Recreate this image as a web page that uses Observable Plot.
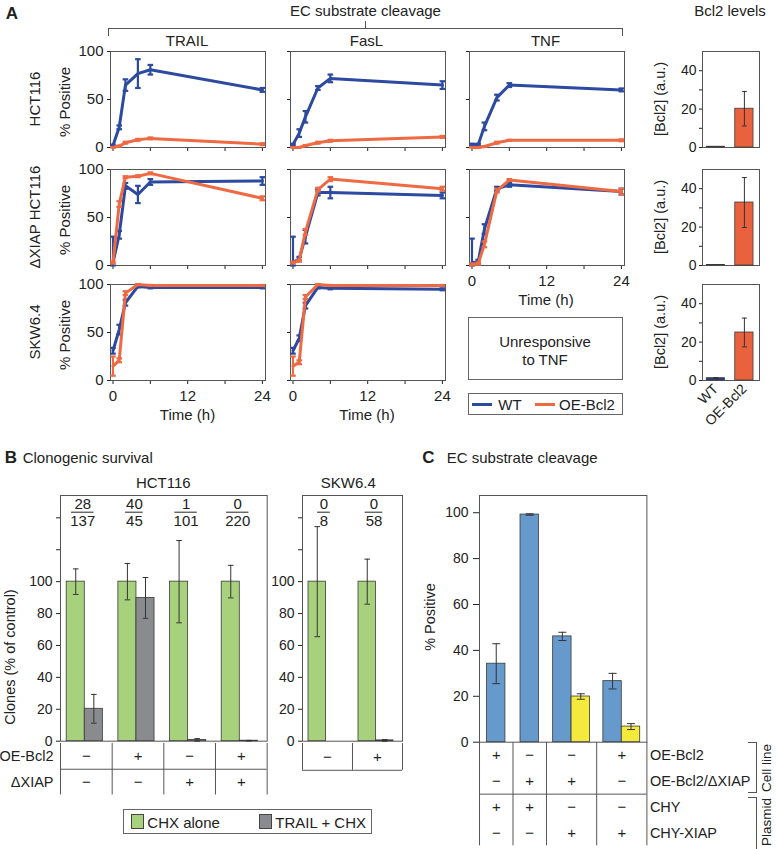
<!DOCTYPE html>
<html><head><meta charset="utf-8">
<script src="https://cdn.jsdelivr.net/npm/d3@7"></script>
<script src="https://cdn.jsdelivr.net/npm/@observablehq/plot@0.6"></script>
<style>
body{margin:0;background:#fff;}
#root{position:relative;width:776px;height:849px;overflow:hidden;font-family:"Liberation Sans",Arial,Helvetica,sans-serif;color:#222;background:#fff;}
</style></head><body><div id="root"></div>
<script>
// ================= DATA =================
// Panel A: EC substrate cleavage (% positive) over time
const timesH = [0, 1, 2, 4, 6, 24];
const cellLinesA = ["HCT116", "ΔXIAP HCT116", "SKW6.4"];
const ligandsA = ["TRAIL", "FasL", "TNF"];
const seriesNames = ["WT", "OE-Bcl2"];

const hct_TRAIL_WT = [2, 21, 65, 77, 81, 60];
const hct_TRAIL_WT_err = [1, 2, 6, 15, 5, 2];
const hct_TRAIL_OE = [0, 1.5, 5, 8, 9.5, 3.5];
const hct_TRAIL_OE_err = [0.5, 0.5, 1, 1, 1, 1];
const hct_FasL_WT = [3, 15, 32, 62, 72, 65];
const hct_FasL_WT_err = [1, 4, 6, 2, 4, 4];
const hct_FasL_OE = [0, 0, 2, 5, 7, 11];
const hct_FasL_OE_err = [0.5, 0.5, 0.5, 1, 1, 1];
const hct_TNF_WT = [3, 3, 22, 52, 65, 60];
const hct_TNF_WT_err = [1, 1, 4, 3, 2, 1.5];
const hct_TNF_OE = [0, 0, 1, 5, 7.5, 7.5];
const hct_TNF_OE_err = [0.5, 0.5, 0.5, 1, 0.5, 1];

const dx_TRAIL_WT = [3, 32, 83, 74, 87, 88];
const dx_TRAIL_WT_err = [27, 4, 3, 9, 3, 4];
const dx_TRAIL_OE = [3, 64, 92, 93, 96, 70];
const dx_TRAIL_OE_err = [1, 3, 1, 1, 1, 2];
const dx_FasL_WT = [3, 7, 30, 76, 76, 73];
const dx_FasL_WT_err = [27, 2, 7, 3, 6, 3];
const dx_FasL_OE = [3, 5, 35, 79, 90, 80];
const dx_FasL_OE_err = [1, 1, 3, 2, 2, 2];
const dx_TNF_WT = [3, 4, 38, 80, 84, 77];
const dx_TNF_WT_err = [25, 2, 5, 2, 2, 3];
const dx_TNF_OE = [1, 2, 22, 78, 89, 77];
const dx_TNF_OE_err = [1, 1, 3, 2, 1, 3];

const skw_TRAIL_WT = [31, 53, 81, 98, 97, 97];
const skw_TRAIL_WT_err = [3, 5, 3, 1, 1, 1];
const skw_TRAIL_OE = [15, 21, 91, 100, 99, 99];
const skw_TRAIL_OE_err = [10, 2, 2, 0.5, 0.5, 0.5];
const skw_FasL_WT = [31, 44, 78, 97, 96, 95];
const skw_FasL_WT_err = [3, 3, 3, 1, 1, 1];
const skw_FasL_OE = [15, 19, 87, 100, 99, 99];
const skw_FasL_OE_err = [10, 2, 2, 0.5, 0.5, 0.5];

// Panel A right: Bcl2 levels (a.u.)
const bcl2Groups = ["WT", "OE-Bcl2"];
const bcl2_HCT116 = [0.4, 20.2];
const bcl2_HCT116_err = [0, 9];
const bcl2_dXIAP = [0.3, 32.8];
const bcl2_dXIAP_err = [0, 13];
const bcl2_SKW = [1.2, 25];
const bcl2_SKW_err = [0.3, 7.5];

// Panel B: clonogenic survival (% of control)
const bRowLabels = ["OE-Bcl2", "ΔXIAP"];
const hctOEBcl2 = ["−", "+", "−", "+"];
const hctDeltaXIAP = ["−", "−", "+", "+"];
const hctSurvivors = [28, 40, 1, 0];
const hctTotal = [137, 45, 101, 220];
const hctCHX = [100, 100, 100, 100];
const hctCHX_err = [8, 11.4, 25.8, 10.2];
const hctTRAIL = [20.3, 89.8, 0.8, 0.3];
const hctTRAIL_err = [9, 12.8, 0.8, 0.2];
const skwOEBcl2 = ["−", "+"];
const skwSurvivors = [0, 0];
const skwTotal = [8, 58];
const skwCHX = [100, 100];
const skwCHX_err = [34.5, 14.1];
const skwTRAIL = [0, 0.5];
const skwTRAIL_err = [0, 0.5];
const bLegend = ["CHX alone", "TRAIL + CHX"];

// Panel C: EC substrate cleavage (% positive)
const cRowLabels = ["OE-Bcl2", "OE-Bcl2/ΔXIAP", "CHY", "CHY-XIAP"];
const cOEBcl2 = ["+", "−", "−", "+"];
const cOEBcl2dXIAP = ["−", "+", "+", "−"];
const cCHY = ["+", "+", "−", "−"];
const cCHYXIAP = ["−", "−", "+", "+"];
const cBlue = [34.2, 99.2, 46.1, 26.6];
const cBlue_err = [8.7, 0.3, 1.8, 3.4];
const cYellow = [null, null, 19.9, 6.8];
const cYellow_err = [null, null, 1.2, 1.3];

// ================= STYLE =================
const FONT = '"Liberation Sans", Arial, Helvetica, sans-serif';
const INK = "#222", FRAME = "#555", EDGE = "#3a3a3a";
const BLUE = "#2c4a9f", ORANGE = "#ee6a43";
const BCL2_WT = "#2b3c8c", BCL2_OE = "#e9623d";
const GREEN = "#a8d17d", GRAY = "#8a8b8e";
const CBLUE = "#6699cc", CYELLOW = "#f5ea3c";

const root = document.getElementById("root");
const CAP = {draw(ctx, size) { const r = Math.sqrt(size / Math.PI); ctx.moveTo(-r, 0); ctx.lineTo(r, 0); }};

function chart(frame, m, opts, fontSize = 15) {
  const [x0, y0, x1, y1] = frame;
  const [mt, mr, mb, ml] = m;
  const w = x1 - x0 + ml + mr, h = y1 - y0 + mt + mb;
  const svg = Plot.plot({
    width: w, height: h, marginTop: mt, marginRight: mr, marginBottom: mb, marginLeft: ml,
    style: {fontFamily: FONT, fontSize: fontSize + "px", background: "transparent", overflow: "visible", color: INK, maxWidth: "none"},
    ...opts
  });
  const d = document.createElement("div");
  Object.assign(d.style, {position: "absolute", left: (x0 - ml) + "px", top: (y0 - mt) + "px", width: w + "px", height: h + "px"});
  d.appendChild(svg);
  root.appendChild(d);
}
function label(str, x, y, o = {}) {
  const d = document.createElement("div");
  d.textContent = str;
  const tx = o.anchor === "start" ? "0" : "-50%";
  Object.assign(d.style, {position: "absolute", left: x + "px", top: y + "px", whiteSpace: "nowrap",
    fontSize: (o.size || 15) + "px", fontWeight: o.bold ? "bold" : "normal", lineHeight: "1", color: INK,
    transform: `translate(${tx},-50%)` + (o.rotate ? ` rotate(${o.rotate}deg)` : "")});
  root.appendChild(d);
}
function box(x, y, w, h, css = {}) {
  const d = document.createElement("div");
  Object.assign(d.style, {position: "absolute", left: x + "px", top: y + "px", width: w + "px", height: h + "px", boxSizing: "border-box"}, css);
  root.appendChild(d);
  return d;
}
function errMarks(data, x, lo, hi, stroke, sw, r) {
  return [
    Plot.ruleX(data, {x, y1: lo, y2: hi, stroke, strokeWidth: sw}),
    Plot.dot(data, {x, y: hi, symbol: CAP, r, stroke, strokeWidth: sw, fill: "none"}),
    Plot.dot(data, {x, y: lo, symbol: CAP, r, stroke, strokeWidth: sw, fill: "none"})
  ];
}

// ================= PANEL A =================
const colX = [110, 289.5, 468.5];
const rowY = [50.7, 168.5, 283.5];
const PW = 155, PH = 96;

const panelsA = [
  {r: 0, c: 0, wt: hct_TRAIL_WT, wtE: hct_TRAIL_WT_err, oe: hct_TRAIL_OE, oeE: hct_TRAIL_OE_err},
  {r: 0, c: 1, wt: hct_FasL_WT, wtE: hct_FasL_WT_err, oe: hct_FasL_OE, oeE: hct_FasL_OE_err},
  {r: 0, c: 2, wt: hct_TNF_WT, wtE: hct_TNF_WT_err, oe: hct_TNF_OE, oeE: hct_TNF_OE_err},
  {r: 1, c: 0, wt: dx_TRAIL_WT, wtE: dx_TRAIL_WT_err, oe: dx_TRAIL_OE, oeE: dx_TRAIL_OE_err},
  {r: 1, c: 1, wt: dx_FasL_WT, wtE: dx_FasL_WT_err, oe: dx_FasL_OE, oeE: dx_FasL_OE_err},
  {r: 1, c: 2, wt: dx_TNF_WT, wtE: dx_TNF_WT_err, oe: dx_TNF_OE, oeE: dx_TNF_OE_err, xlab: true},
  {r: 2, c: 0, wt: skw_TRAIL_WT, wtE: skw_TRAIL_WT_err, oe: skw_TRAIL_OE, oeE: skw_TRAIL_OE_err, xlab: true},
  {r: 2, c: 1, wt: skw_FasL_WT, wtE: skw_FasL_WT_err, oe: skw_FasL_OE, oeE: skw_FasL_OE_err, xlab: true}
];
function seriesMarks(data, color) {
  return [
    ...errMarks(data, "t", d => Math.max(0, d.v - d.e), d => d.v + d.e, color, 2.2, 2.8),
    Plot.line(data, {x: "t", y: "v", stroke: color, strokeWidth: 3, strokeLinejoin: "round"})
  ];
}
for (const p of panelsA) {
  const rows = (v, e) => timesH.map((t, i) => ({t, v: v[i], e: e[i]}));
  chart([colX[p.c], rowY[p.r], colX[p.c] + PW, rowY[p.r] + PH], [4, 4, 40, 40], {
    x: {domain: [-0.4, 24.5], ticks: [0, 6, 12, 18, 24], tickSize: 4, tickPadding: 6,
        tickFormat: d => (p.xlab && d % 12 === 0) ? String(d) : "", label: null},
    y: {domain: [0, 100], ticks: [0, 50, 100], tickSize: 3, tickPadding: 4,
        tickFormat: d => p.c === 0 ? String(d) : "", label: null},
    marks: [
      Plot.frame({stroke: FRAME}),
      ...seriesMarks(rows(p.wt, p.wtE), BLUE),
      ...seriesMarks(rows(p.oe, p.oeE), ORANGE)
    ]
  });
  if (p.xlab) label("Time (h)", colX[p.c] + PW / 2, rowY[p.r] + PH + 34);
}
// headers
label("A", 12, 12.5, {bold: true, size: 17});
label("EC substrate cleavage", 365.5, 10);
label("Bcl2 levels", 730, 10);
box(108, 27.7, 515.3, 8.5, {borderTop: "1px solid #555", borderLeft: "1px solid #555", borderRight: "1px solid #555"});
box(365, 20.5, 1, 7.5, {background: "#555"});
ligandsA.forEach((g, c) => label(g, colX[c] + PW / 2 - 0.5, 40));
cellLinesA.forEach((n, r) => {
  label(n, 34, rowY[r] + PH / 2, {rotate: -90});
  label("% Positive", 64, rowY[r] + PH / 2 + 3, {rotate: -90});
  label("[Bcl2] (a.u.)", 660, rowY[r] + PH / 2, {rotate: -90, size: 14.5});
});
// unresponsive box
box(467.5, 317.3, 155.5, 63, {border: "1px solid #666"});
label("Unresponsive", 545, 340.7);
label("to TNF", 545, 358.5);
// legend A
box(467.5, 392.7, 155.5, 22.5, {border: "1px solid #666"});
box(471.7, 403, 20, 3, {background: BLUE});
label(seriesNames[0], 498.3, 404.3, {anchor: "start"});
box(535, 403, 20, 3, {background: ORANGE});
label(seriesNames[1], 559, 404.3, {anchor: "start"});

// Bcl2 bar charts
const bcl2Sets = [[bcl2_HCT116, bcl2_HCT116_err], [bcl2_dXIAP, bcl2_dXIAP_err], [bcl2_SKW, bcl2_SKW_err]];
bcl2Sets.forEach(([v, e], r) => {
  const data = bcl2Groups.map((g, i) => ({g, x: i + 0.47, v: v[i], e: e[i]}));
  const last = r === 2;
  chart([702, rowY[r], 759, rowY[r] + PH], [4, 4, 40, 40], {
    x: {domain: [0, 2], ticks: data.map(d => d.x), tickFormat: x => bcl2Groups[Math.round(x - 0.47)],
        tickSize: 0, tickPadding: 6, tickRotate: -45, label: null, axis: last ? "bottom" : null},
    y: {domain: [0, 50], ticks: [0, 10, 20, 30, 40], tickSize: 3, tickPadding: 3,
        tickFormat: d => d % 20 === 0 ? String(d) : "", label: null},
    marks: [
      Plot.frame({stroke: FRAME}),
      Plot.rect(data.filter(d => d.g === "WT"), {x1: d => d.x - 0.32, x2: d => d.x + 0.32, y1: () => 0, y2: "v", fill: BCL2_WT, stroke: EDGE, strokeWidth: 0.8}),
      Plot.rect(data.filter(d => d.g !== "WT"), {x1: d => d.x - 0.32, x2: d => d.x + 0.32, y1: () => 0, y2: "v", fill: BCL2_OE, stroke: EDGE, strokeWidth: 0.8}),
      ...errMarks(data.filter(d => d.e > 0), "x", d => d.v - d.e, d => d.v + d.e, "#333", 1, 2.5)
    ]
  }, 14);
});

// ================= PANEL B =================
const yMaxB = 154;
const BW = 0.35;
function clonogenic(frame, chx, chxE, trail, trailE, surv, tot) {
  const n = chx.length;
  const ppu = (frame[2] - frame[0]) / n;
  const data = chx.map((v, i) => ({c: i + 0.47, chx: v, chxE: chxE[i], tr: trail[i], trE: trailE[i], num: surv[i], den: tot[i]}));
  const fx = d => d.c - 0.04;
  const half = d => (4 + 2.4 * Math.max(String(d.num).length, String(d.den).length)) / ppu;
  chart(frame, [4, 4, 10, 50], {
    x: {domain: [0, n], axis: null},
    y: {domain: [0, yMaxB], ticks: [0, 20, 40, 60, 80, 100, 120, 140], tickSize: 4, tickPadding: 4,
        tickFormat: d => d <= 100 ? String(d) : "", label: null},
    marks: [
      Plot.frame({stroke: FRAME}),
      Plot.rect(data, {x1: d => d.c - BW, x2: d => d.c, y1: () => 0, y2: "chx", fill: GREEN, stroke: EDGE, strokeWidth: 0.8}),
      Plot.rect(data.filter(d => d.tr > 0), {x1: d => d.c, x2: d => d.c + BW, y1: () => 0, y2: "tr", fill: GRAY, stroke: EDGE, strokeWidth: 0.8}),
      ...errMarks(data, d => d.c - BW / 2, d => d.chx - d.chxE, d => d.chx + d.chxE, "#333", 1, 2.8),
      ...errMarks(data.filter(d => d.trE > 0), d => d.c + BW / 2, d => Math.max(0, d.tr - d.trE), d => d.tr + d.trE, "#333", 1, 2.8),
      Plot.text(data, {x: fx, frameAnchor: "top", lineAnchor: "middle", dy: 8.3, text: d => String(d.num), fontSize: 15}),
      Plot.text(data, {x: fx, frameAnchor: "top", lineAnchor: "middle", dy: 26, text: d => String(d.den), fontSize: 15}),
      Plot.ruleY(data, {y: () => yMaxB, x1: d => fx(d) - half(d), x2: d => fx(d) + half(d), dy: 16.7, stroke: INK, strokeWidth: 1})
    ]
  }, 14);
}
function condTable(frame, rowsVals, rowLabels, showLabels, bottomLine) {
  const n = rowsVals[0].length, nr = rowsVals.length;
  const cells = rowsVals.flatMap((vals, r) => vals.map((t, i) => ({x: i + 0.5, y: r + 0.5, t})));
  chart(frame, [0, 4, 4, 70], {
    x: {domain: [0, n], axis: null},
    y: {domain: [0, nr], reverse: true, ticks: rowLabels.map((_, r) => r + 0.5), tickFormat: v => rowLabels[Math.floor(v)],
        tickSize: 0, tickPadding: 7, label: null, axis: showLabels ? "left" : null},
    marks: [
      Plot.ruleX(d3.range(n + 1), {stroke: FRAME}),
      Plot.ruleY(d3.range(1, nr + (bottomLine ? 1 : 0)), {x1: () => 0, x2: () => n, stroke: FRAME}),
      Plot.text(cells, {x: "x", y: "y", text: "t", fontSize: 15})
    ]
  }, 14.5);
}
clonogenic([60, 495, 266.7, 740.7], hctCHX, hctCHX_err, hctTRAIL, hctTRAIL_err, hctSurvivors, hctTotal);
clonogenic([301.7, 495, 401.7, 740.7], skwCHX, skwCHX_err, skwTRAIL, skwTRAIL_err, skwSurvivors, skwTotal);
condTable([60, 742.5, 266.7, 794], [hctOEBcl2, hctDeltaXIAP], bRowLabels, true, false);
condTable([301.7, 742.5, 401.7, 769.3], [skwOEBcl2], [bRowLabels[0]], false, true);
label("B", 11, 457, {bold: true, size: 17});
label("Clonogenic survival", 22.7, 457, {anchor: "start"});
label("HCT116", 163.3, 481.5);
label("SKW6.4", 348.3, 481.5);
label("Clones (% of control)", 9.5, 657, {rotate: -90, size: 14.5});
// legend B
box(123.3, 809.3, 249, 25, {border: "1px solid #666"});
box(130.7, 813.5, 13.5, 15, {background: GREEN, border: "1px solid #444"});
label(bLegend[0], 147.3, 821.5, {anchor: "start"});
box(258.7, 813.5, 13.5, 15, {background: GRAY, border: "1px solid #444"});
label(bLegend[1], 275.3, 821.5, {anchor: "start"});

// ================= PANEL C =================
const cSizes = cBlue.map((v, i) => 1 + (v != null ? 1 : 0) + (cYellow[i] != null ? 1 : 0));
const cStarts = cSizes.map((s, i) => d3.sum(cSizes.slice(0, i)));
const cTotal = d3.sum(cSizes);
const cData = cBlue.map((v, i) => {
  const k = cSizes[i] - 1, ctr = cStarts[i] + cSizes[i] / 2, x0 = ctr - k * 0.55;
  return {ctr, b: v, bE: cBlue_err[i], y: cYellow[i], yE: cYellow_err[i], bx1: x0, bx2: x0 + 1.1, yx1: x0 + 1.1, yx2: x0 + 2.2};
});
chart([479.3, 495, 646.7, 741.7], [4, 4, 10, 60], {
  x: {domain: [0, cTotal], axis: null},
  y: {domain: [0, 107.5], ticks: [0, 20, 40, 60, 80, 100], tickSize: 6, tickPadding: 5, label: null},
  marks: [
    Plot.frame({stroke: FRAME}),
    Plot.rect(cData, {x1: "bx1", x2: "bx2", y1: () => 0, y2: "b", fill: CBLUE, stroke: EDGE, strokeWidth: 0.8}),
    Plot.rect(cData.filter(d => d.y != null), {x1: "yx1", x2: "yx2", y1: () => 0, y2: "y", fill: CYELLOW, stroke: EDGE, strokeWidth: 0.8}),
    ...errMarks(cData, d => (d.bx1 + d.bx2) / 2, d => d.b - d.bE, d => d.b + d.bE, "#333", 1, 4),
    ...errMarks(cData.filter(d => d.y != null), d => (d.yx1 + d.yx2) / 2, d => d.y - d.yE, d => d.y + d.yE, "#333", 1, 4)
  ]
}, 14);
// C table
const cRows = [cOEBcl2, cOEBcl2dXIAP, cCHY, cCHYXIAP];
const cCells = cRows.flatMap((vals, r) => vals.map((t, i) => ({x: cData[i].ctr, y: r + 0.5, t})));
chart([479.3, 741.7, 646.7, 845], [0, 130, 4, 4], {
  x: {domain: [0, cTotal], axis: null},
  y: {domain: [0, 4], reverse: true, axis: "right", ticks: [0.5, 1.5, 2.5, 3.5], tickFormat: v => cRowLabels[Math.floor(v)],
      tickSize: 0, tickPadding: 3, label: null},
  marks: [
    Plot.ruleX([...cStarts, cTotal], {stroke: FRAME}),
    Plot.ruleY([2], {x1: () => 0, x2: () => cTotal, stroke: FRAME}),
    Plot.text(cCells, {x: "x", y: "y", text: "t", fontSize: 15})
  ]
}, 14.5);
label("C", 428.5, 457, {bold: true, size: 17});
label("EC substrate cleavage", 446.7, 457, {anchor: "start"});
label("% Positive", 430, 617, {rotate: -90, size: 14.5});
box(748.3, 741.7, 8.5, 51.6, {borderTop: "1px solid #555", borderRight: "1px solid #555", borderBottom: "1px solid #555"});
box(748.3, 796.7, 8.5, 60, {borderTop: "1px solid #555", borderRight: "1px solid #555"});
label("Cell line", 766.5, 767.5, {rotate: -90, size: 13.5});
label("Plasmid", 766.5, 821.5, {rotate: -90, size: 13.5});
</script></body></html>
